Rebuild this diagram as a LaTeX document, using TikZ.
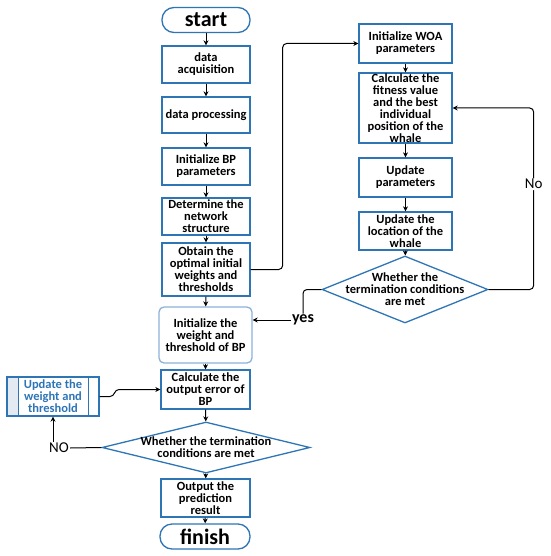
\documentclass[tikz,border=0pt]{standalone}
\usepackage{fontspec}
\setmainfont{Carlito}
\usetikzlibrary{shapes.geometric,arrows.meta}

\definecolor{boxblue}{RGB}{46,117,182}
\definecolor{softblue}{RGB}{140,178,218}
\definecolor{stripgray}{RGB}{228,234,242}

\tikzset{
  box/.style={draw=boxblue, line width=1.3pt, fill=white, align=center,
    inner sep=0.5pt, font=\fontsize{12.5}{12}\selectfont\bfseries},
  termbox/.style={box, rounded corners=12pt, minimum width=88pt, minimum height=25pt,
    font=\fontsize{22}{22}\selectfont\bfseries},
  softbox/.style={box, draw=softblue, rounded corners=5pt},
  choice/.style={diamond, draw=boxblue, line width=1.3pt, inner sep=0pt},
  choicetext/.style={align=center, font=\fontsize{12.5}{12}\selectfont\bfseries},
  procbox/.style={box, text=boxblue,
    path picture={
      \fill[stripgray] (path picture bounding box.north west) rectangle
        ([xshift=11pt]path picture bounding box.south west);
      \draw[boxblue, line width=1pt] ([xshift=11pt]path picture bounding box.north west) --
        ([xshift=11pt]path picture bounding box.south west);
      \draw[boxblue, line width=1pt] ([xshift=-11pt]path picture bounding box.north east) --
        ([xshift=-11pt]path picture bounding box.south east);
    }},
  arr/.style={-{Stealth[length=5pt,width=5pt]}, line width=1pt},
  link/.style={line width=1pt}
}

\begin{document}
\begin{tikzpicture}[x=1pt, y=-1pt]

  \useasboundingbox (0,0) rectangle (550,556);

  % linke Spalte
  \node[termbox] (start) at (206,20) {start};
  \node[box, minimum width=88pt, minimum height=37pt] (acq) at (206,64.5) {data\\acquisition};
  \node[box, minimum width=88pt, minimum height=36pt] (prep) at (206,115) {data processing};
  \node[box, minimum width=88pt, minimum height=37pt] (initbp) at (206,166.5) {Initialize BP\\parameters};
  \node[box, minimum width=88pt, minimum height=37pt] (net) at (206,216.5) {Determine the\\network\\structure};
  \node[box, minimum width=88pt, minimum height=53pt] (obtain) at (206,269.5) {Obtain the\\optimal initial\\weights and\\thresholds};
  \node[softbox, minimum width=93pt, minimum height=56pt] (initw) at (205.5,335) {Initialize the\\weight and\\threshold of BP};
  \node[box, minimum width=89pt, minimum height=39pt] (err) at (205.5,389.5) {Calculate the\\output error of\\BP};
  \node[choice, minimum width=208pt, minimum height=51pt,
    label={[choicetext]center:Whether the termination\\conditions are met}] (endbp) at (206,447.5) {};
  \node[box, minimum width=89pt, minimum height=38pt] (out) at (205.5,498) {Output the\\prediction\\result};
  \node[termbox, minimum width=90pt] (finish) at (205,536.5) {finish};

  % Korrektur links
  \node[procbox, minimum width=92pt, minimum height=39pt] (upd) at (53,396.5) {Update the\\weight and\\threshold};
  \node[font=\fontsize{15}{16}\selectfont, inner sep=1pt] (no) at (59,448) {NO};

  % rechte Spalte (WOA)
  \node[box, minimum width=93pt, minimum height=39pt] (woa) at (405.5,43.5) {Initialize WOA\\parameters};
  \node[box, minimum width=93pt, minimum height=70pt] (fit) at (405.5,108) {Calculate the\\fitness value\\and the best\\individual\\position of the\\whale};
  \node[box, minimum width=93pt, minimum height=39pt] (updpar) at (405.5,177.5) {Update\\parameters};
  \node[box, minimum width=93pt, minimum height=38pt] (updloc) at (405.5,231) {Update the\\location of the\\whale};
  \node[choice, minimum width=166pt, minimum height=67pt,
    label={[choicetext]center:Whether the\\termination conditions\\are met}] (endwoa) at (405,289.5) {};
  \node[font=\fontsize{16}{16}\selectfont\bfseries, inner sep=1pt] (yes) at (303,320) {yes};

  % Pfeile
  \draw[arr] (start) -- (acq);
  \draw[arr] (acq) -- (prep);
  \draw[arr] (prep) -- (initbp);
  \draw[arr] (initbp) -- (net);
  \draw[arr] (net) -- (obtain);
  \draw[arr] (obtain) -- (initw);
  \draw[arr] (initw) -- (err);
  \draw[arr] (err) -- (endbp);
  \draw[arr] (endbp) -- (out);
  \draw[arr] (out) -- (finish);

  \draw[arr] (woa) -- (fit);
  \draw[arr] (fit) -- (updpar);
  \draw[arr] (updpar) -- (updloc);
  \draw[arr] (updloc) -- (endwoa);

  \draw[arr, rounded corners=4pt] (obtain.east) -- ++(32,0) |- (woa.west);
  \draw[arr, rounded corners=4pt] (endwoa.east) -- ++(45,0)
    |- node[pos=0.29, fill=white, inner sep=1pt, font=\fontsize{15}{15}\selectfont] {No} (fit.east);
  \draw[link, rounded corners=4pt] (endwoa.west) -| (yes.north);
  \draw[arr] (yes.west) -- (initw.east |- yes.west);

  \draw[link] (endbp.west) -- (no.east);
  \draw[arr] (upd.south |- no.north) -- (upd.south);
  \coordinate (bend) at (119,389.5);
  \draw[arr] (upd.east) -- (110,396.5) .. controls (115,396.5) and (114,389.5) .. (bend) -- (err.west);

\end{tikzpicture}
\end{document}
